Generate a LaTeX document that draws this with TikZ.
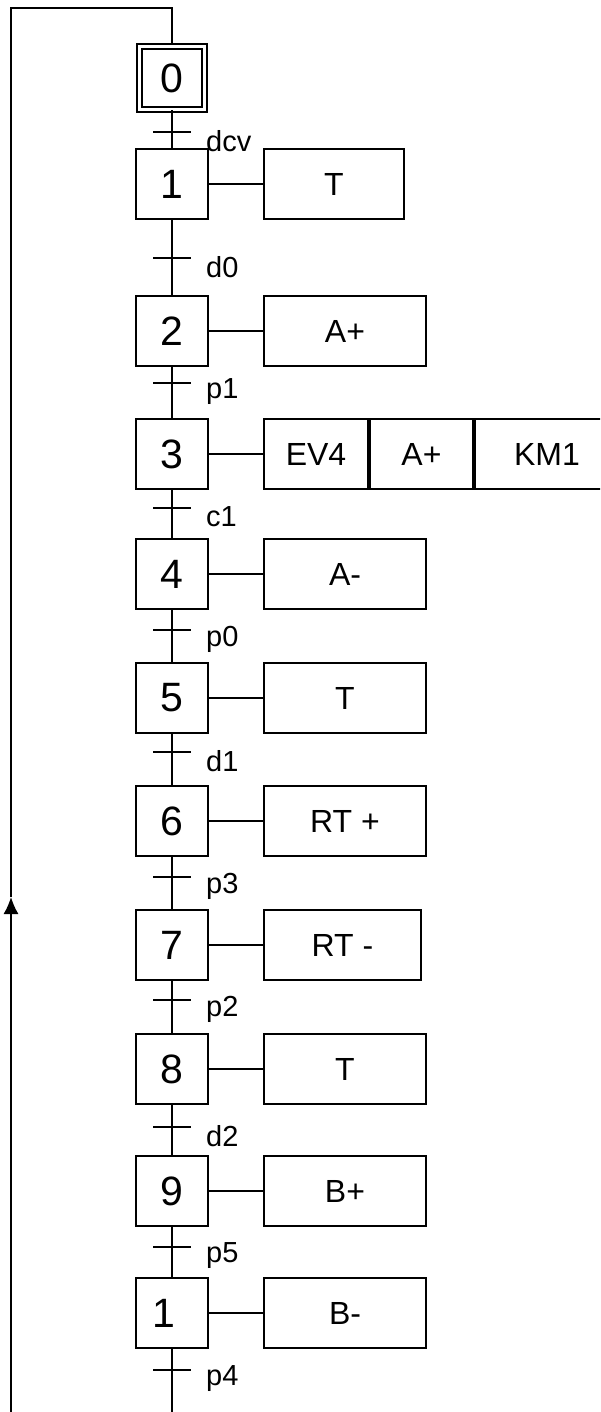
\documentclass[tikz,border=0pt]{standalone}
\usepackage{fontspec}
\setmainfont{Liberation Sans}
\usetikzlibrary{arrows.meta,positioning}

\begin{document}
\begin{tikzpicture}[x=1pt, y=-1pt,
  etape/.style={draw, line width=2pt, minimum width=72pt, minimum height=70pt, inner sep=0pt, font=\fontsize{41}{41}\selectfont},
  action/.style={draw, line width=2pt, minimum height=70pt, inner sep=0pt, font=\fontsize{32}{32}\selectfont},
  barre/.style={fill=black, minimum width=38pt, minimum height=2pt, inner sep=0pt},
  recept/.style={anchor=west, inner sep=0pt, font=\fontsize{29}{29}\selectfont},
  lien/.style={line width=1.5pt}]
  \useasboundingbox (0,0) rectangle (600,1412);
  \clip (0,0) rectangle (600,1412);
  \node[etape, double, double distance=3pt, minimum width=65pt, minimum height=63pt] (s0) at (172,78) {0};
  \foreach \n/\lab/\y/\act/\w in {1/1/184/T/140, 2/2/331/A+/162, 3/3/454/EV4/104, 4/4/574/A-/162, 5/5/698/T/162,
      6/6/821/RT +/162, 7/7/945/RT -/157, 8/8/1069/T/162, 9/9/1191/B+/162, 10/{\makebox[40pt][l]{1}}/1313/B-/162} {
    \node[etape] (s\n) at (172,\y) {\lab};
    \node[action, minimum width=\w pt, anchor=west] (a\n) at (263,\y) {\act};
    \draw[lien] (s\n) -- (a\n);
  }
  \node[action, minimum width=103pt, right=0pt of a3] (a3b) {A+};
  \node[action, minimum width=144pt, right=0pt of a3b] (a3c) {KM1};
  \foreach \i/\ty/\c in {0/132/dcv, 1/258/d0, 2/383/p1, 3/508/c1, 4/630/p0, 5/752/d1,
      6/877/p3, 7/1000/p2, 8/1127/d2, 9/1247/p5, 10/1370/p4} {
    \node[barre] (t\i) at (172,\ty) {};
    \node[recept] (c\i) at (206,\ty+9) {\c};
  }
  \foreach \i [evaluate=\i as \j using int(\i+1)] in {0,...,9}
    \draw[lien] (s\i) -- (t\i) -- (s\j);
  \coordinate (bas) at (172,1420);
  \coordinate (basg) at (11,1420);
  \coordinate (fleche) at (11,897);
  \coordinate (haut) at (11,8);
  \draw[lien] (s10) -- (t10) -- (bas);
  \draw[lien, -{Latex[length=17pt, width=15pt]}] (basg) -- (fleche);
  \draw[lien] (fleche) -- (haut) -| (s0.north);
\end{tikzpicture}
\end{document}
